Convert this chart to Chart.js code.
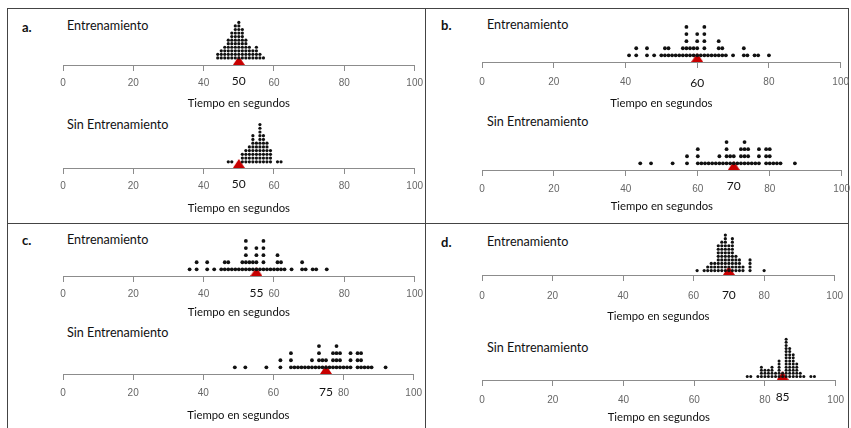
<!DOCTYPE html>
<html>
<head>
<meta charset="utf-8">
<script src="https://cdn.jsdelivr.net/npm/chart.js@4/dist/chart.umd.min.js"></script>
<style>
  html, body { margin: 0; padding: 0; background: #fff; overflow: hidden; width: 851px; height: 428px; }
  #stage { position: relative; width: 851px; height: 428px; }
  .rule { position: absolute; background: #444; }
  .lbl { position: absolute; font-family: Lato, "Open Sans", sans-serif; color: #111; white-space: nowrap; line-height: 1; transform: translateY(-50%); }
  .letter { font-weight: bold; font-size: 13px; }
  .group { font-size: 12.6px; }
  canvas { position: absolute; }
</style>
</head>
<body>
<div id="stage"></div>
<script>
// ---- text ----
const panelLetters = ['a.', 'b.', 'c.', 'd.'];
const groupNames = ['Entrenamiento', 'Sin Entrenamiento'];
const axisTitle = 'Tiempo en segundos';
const tickValues = [0, 20, 40, 60, 80, 100];

// ---- dot plot data: time (s) and number of dots stacked at that time ----
const aTrainTimes  = [44, 45, 46, 47, 48, 49, 50, 51, 52, 53, 54, 55, 56, 57];
const aTrainCounts = [ 2,  3,  4,  6,  8, 10, 11,  9,  6,  4,  3,  4,  2,  1];
const aNoneTimes   = [47, 48, 51, 52, 53, 54, 55, 56, 57, 58, 59, 61, 62];
const aNoneCounts  = [ 1,  1,  3,  4,  5,  8,  6, 11,  8,  6,  4,  1,  1];

const bTrainTimes  = [41, 43, 46, 48, 50, 51, 52, 53, 54, 55, 56, 57, 58, 59, 60, 61, 62, 63, 64, 65, 66, 67, 68, 70, 73, 74, 76, 77, 80];
const bTrainCounts = [ 1,  2,  2,  1,  1,  2,  2,  1,  1,  1,  2,  5,  2,  2,  4,  1,  5,  1,  1,  1,  3,  2,  1,  1,  2,  1,  1,  1,  1];
const bNoneTimes   = [44, 47, 53, 57, 60, 61, 62, 63, 64, 65, 66, 67, 68, 69, 70, 71, 72, 73, 74, 75, 76, 77, 79, 80, 81, 82, 83, 87];
const bNoneCounts  = [ 1,  1,  1,  2,  3,  1,  1,  1,  1,  1,  2,  1,  4,  2,  2,  1,  3,  4,  3,  1,  1,  3,  3,  3,  1,  1,  1,  1];

const cTrainTimes  = [36, 38, 41, 43, 45, 46, 47, 48, 49, 50, 51, 52, 53, 54, 55, 56, 57, 58, 59, 60, 61, 62, 63, 65, 68, 69, 71, 72, 75];
const cTrainCounts = [ 1,  2,  2,  1,  1,  2,  2,  1,  1,  1,  2,  5,  2,  2,  4,  1,  5,  1,  1,  1,  3,  2,  1,  1,  2,  1,  1,  1,  1];
const cNoneTimes   = [49, 52, 58, 62, 65, 66, 67, 68, 69, 70, 71, 72, 73, 74, 75, 76, 77, 78, 79, 80, 81, 82, 84, 85, 86, 87, 88, 92];
const cNoneCounts  = [ 1,  1,  1,  2,  3,  1,  1,  1,  1,  1,  2,  1,  4,  2,  2,  1,  3,  4,  3,  1,  1,  3,  3,  3,  1,  1,  1,  1];

const dTrainTimes  = [61, 63, 64, 65, 66, 67, 68, 69, 70, 71, 72, 73, 74, 76, 80];
const dTrainCounts = [ 1,  1,  2,  3,  3,  8,  9, 11,  8, 10,  5,  4,  2,  4,  1];
const dNoneTimes   = [75, 76, 78, 79, 80, 81, 82, 83, 84, 85, 86, 87, 88, 89, 90, 91, 93, 94];
const dNoneCounts  = [ 1,  1,  1,  4,  3,  3,  4,  2,  6,  2, 13, 10,  8,  5,  2,  1,  1,  1];

// marked mean of each plot (a-train, a-none, b-train, b-none, c-train, c-none, d-train, d-none)
const meanTimes = [50, 50, 60, 70, 55, 75, 70, 85];

const plotTimes  = [aTrainTimes, aNoneTimes, bTrainTimes, bNoneTimes, cTrainTimes, cNoneTimes, dTrainTimes, dNoneTimes];
const plotCounts = [aTrainCounts, aNoneCounts, bTrainCounts, bNoneCounts, cTrainCounts, cNoneCounts, dTrainCounts, dNoneCounts];

// ---- page layout (pixels) ----
const stage = document.getElementById('stage');
const PAD = 14;      // side room for the end tick labels
const ABOVE = 62;    // plotting height above the axis line
const BELOW = 50;    // height of the axis box (ticks, labels, title)

const panelFrames = [
  { letter: [22, 27],  titles: [[67, 26], [67, 125]] },
  { letter: [441, 25], titles: [[487, 25], [487, 122]] },
  { letter: [22, 240], titles: [[67, 240], [67, 333]] },
  { letter: [441, 242], titles: [[487, 242], [487, 348]] }
];

// one entry per dot plot, same order as plotTimes
const plotFrames = [
  { x0: 63,  x100: 415, axisY: 65,  row: 4.0, base: 8,   r: 1.6, tickOff: 18, meanOff: 16, titleOff: 38 },
  { x0: 63,  x100: 415, axisY: 168, row: 4.2, base: 7,   r: 1.6, tickOff: 18, meanOff: 16, titleOff: 40 },
  { x0: 482, x100: 843, axisY: 62,  row: 8.0, base: 7.5, r: 1.9, tickOff: 20, meanOff: 21, titleOff: 41 },
  { x0: 482, x100: 843, axisY: 170, row: 8.0, base: 7.5, r: 1.9, tickOff: 19, meanOff: 16, titleOff: 36 },
  { x0: 63,  x100: 415, axisY: 276, row: 8.0, base: 7.5, r: 1.9, tickOff: 18, meanOff: 17, titleOff: 36 },
  { x0: 63,  x100: 415, axisY: 374, row: 8.0, base: 7.5, r: 1.9, tickOff: 19, meanOff: 18, titleOff: 41 },
  { x0: 482, x100: 838, axisY: 275, row: 4.0, base: 5,   r: 1.6, tickOff: 21, meanOff: 20, titleOff: 41 },
  { x0: 482, x100: 838, axisY: 380, row: 3.5, base: 4,   r: 1.5, tickOff: 20, meanOff: 17, titleOff: 37 }
];

// frame lines
function rule(x, y, w, h) {
  const d = document.createElement('div');
  d.className = 'rule';
  Object.assign(d.style, { left: x + 'px', top: y + 'px', width: w + 'px', height: h + 'px' });
  stage.appendChild(d);
}
rule(7, 8, 842, 1);     // top
rule(7, 8, 1, 420);     // left
rule(848, 8, 1, 420);   // right
rule(425, 8, 1, 420);   // middle divider
rule(7, 223, 842, 1);   // row divider

function text(cls, str, x, y) {
  const d = document.createElement('div');
  d.className = 'lbl ' + cls;
  d.textContent = str;
  d.style.left = x + 'px';
  d.style.top = y + 'px';
  stage.appendChild(d);
}
panelFrames.forEach((f, i) => {
  text('letter', panelLetters[i], f.letter[0], f.letter[1]);
  f.titles.forEach((t, j) => text('group', groupNames[j], t[0], t[1]));
});

// red mean marker: triangle in the upper half so its base sits on the anchor point
function makeMarker(w, h, color) {
  const c = document.createElement('canvas');
  c.width = w; c.height = 2 * h;
  const g = c.getContext('2d');
  g.fillStyle = color;
  g.beginPath();
  g.moveTo(w / 2, 0);
  g.lineTo(w, h);
  g.lineTo(0, h);
  g.closePath();
  g.fill();
  return c;
}
const marker = makeMarker(12, 9, '#c80000');

// writes the mean value under its marker, on a white patch over the tick labels
const meanLabel = {
  id: 'meanLabel',
  afterDraw(chart, args, opts) {
    const { ctx, chartArea } = chart;
    const x = chart.scales.x.getPixelForValue(opts.value);
    const y = chartArea.bottom + opts.offset;
    ctx.save();
    ctx.font = '12px Lato, "Open Sans", sans-serif';
    const tw = ctx.measureText(String(opts.value)).width;
    ctx.fillStyle = '#fff';
    ctx.fillRect(x - tw / 2 - 2, y - 7, tw + 4, 14);
    ctx.fillStyle = '#111';
    ctx.textAlign = 'center';
    ctx.textBaseline = 'middle';
    ctx.fillText(String(opts.value), x, y);
    ctx.restore();
  }
};

function stackPoints(times, counts) {
  const pts = [];
  times.forEach((t, i) => {
    for (let k = 1; k <= counts[i]; k++) pts.push({ x: t, y: k });
  });
  return pts;
}

plotFrames.forEach((f, i) => {
  const cv = document.createElement('canvas');
  const w = (f.x100 - f.x0) + 2 * PAD;
  const h = ABOVE + BELOW;
  cv.width = w; cv.height = h;
  cv.style.left = (f.x0 - PAD) + 'px';
  cv.style.top = (f.axisY - ABOVE) + 'px';
  cv.style.width = w + 'px'; cv.style.height = h + 'px';
  stage.appendChild(cv);

  const yMin = 1 - f.base / f.row;
  const yMax = yMin + ABOVE / f.row;
  const tickFont = { family: '"Liberation Sans", Arial, sans-serif', size: 10 };
  const titleFont = { family: 'Lato, "Open Sans", sans-serif', size: 11.3 };

  new Chart(cv, {
    type: 'scatter',
    data: {
      datasets: [
        {
          data: stackPoints(plotTimes[i], plotCounts[i]),
          pointRadius: f.r,
          pointBorderWidth: 0,
          pointBackgroundColor: '#111',
          clip: false
        },
        {
          data: [{ x: meanTimes[i], y: yMin }],
          pointStyle: marker,
          pointRadius: 6,
          clip: false
        }
      ]
    },
    options: {
      responsive: false,
      animation: false,
      events: [],
      layout: { padding: { left: PAD, right: PAD, top: 0, bottom: 0 } },
      plugins: {
        legend: { display: false },
        tooltip: { enabled: false },
        meanLabel: { value: meanTimes[i], offset: f.meanOff }
      },
      scales: {
        x: {
          type: 'linear',
          min: 0, max: 100,
          afterBuildTicks: s => { s.ticks = tickValues.map(v => ({ value: v })); },
          afterFit: s => { s.height = BELOW; },
          border: { display: true, color: '#8c8c8c', width: 1 },
          grid: { drawOnChartArea: false, drawTicks: true, tickLength: 6, color: '#8c8c8c' },
          ticks: {
            font: tickFont, color: '#666', maxRotation: 0, autoSkip: false,
            padding: f.tickOff - 6 - tickFont.size * 0.6
          },
          title: {
            display: true, text: axisTitle, font: titleFont, color: '#111',
            padding: { top: 0, bottom: BELOW - f.titleOff - titleFont.size * 0.6 }
          }
        },
        y: { type: 'linear', display: false, min: yMin, max: yMax }
      }
    },
    plugins: [meanLabel]
  });
});
</script>
</body>
</html>
